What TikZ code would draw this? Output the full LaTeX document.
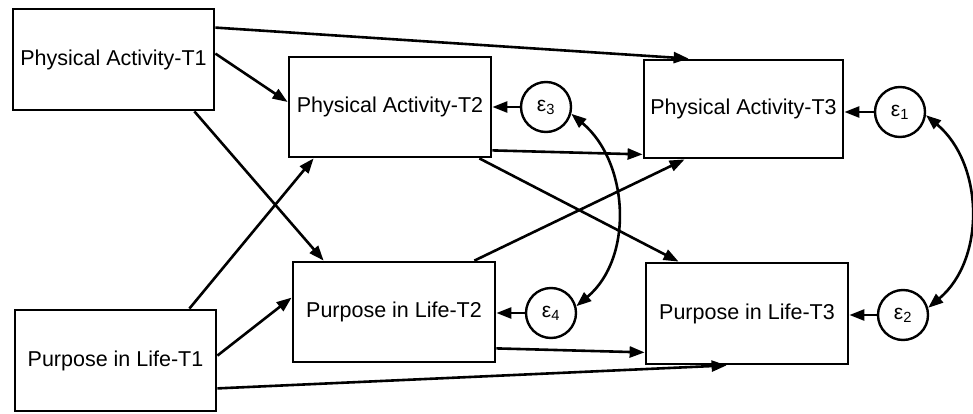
\documentclass[tikz,border=0pt]{standalone}
\usepackage{fontspec}
\setmainfont{Liberation Sans}
\usetikzlibrary{arrows.meta}
\begin{document}
\begin{tikzpicture}[x=1pt,y=-1pt,
  box/.style={draw,line width=2.8pt,inner sep=0pt,align=center,font=\fontsize{21.5}{25}\selectfont},
  err/.style={draw,circle,line width=2.4pt,minimum size=50pt,inner sep=0pt,font=\fontsize{21}{22}\selectfont},
  arr/.style={line width=2.6pt,-{Triangle[length=15pt,width=11pt]}},
  dbl/.style={line width=2.6pt,{Triangle[length=15pt,width=11pt]}-{Triangle[length=15pt,width=11pt]}}]
\useasboundingbox (0,0) rectangle (973,414);
\node[box,minimum width=201pt,minimum height=101pt] (pa1) at (113.5,59.5) {Physical Activity-T1};
\node[box,minimum width=202pt,minimum height=100pt] (pa2) at (390,107) {Physical Activity-T2};
\node[box,minimum width=199pt,minimum height=98pt] (pa3) at (743.5,109) {Physical Activity-T3};
\node[box,minimum width=201pt,minimum height=101pt] (pl1) at (115.5,360.5) {Purpose in Life-T1};
\node[box,minimum width=202pt,minimum height=100pt] (pl2) at (394,312) {Purpose in Life-T2};
\node[box,minimum width=202pt,minimum height=101pt] (pl3) at (747,313.5) {Purpose in Life-T3};
\node[err] (e3) at (546,107) {ε\textsubscript{3}};
\node[err] (e4) at (551,313) {ε\textsubscript{4}};
\node[err] (e1) at (900,112) {ε\textsubscript{1}};
\node[err] (e2) at (903,315) {ε\textsubscript{2}};
% paths
\draw[arr] ([yshift=-20pt]pa1.north east) -- ([xshift=46pt]pa3.north west);
\draw[arr] ([yshift=-46pt]pa1.north east) -- ([yshift=5pt]pa2.west);
\draw[arr] ([xshift=-21pt]pa1.south east) -- ([xshift=32pt]pl2.north west);
\draw[arr] ([xshift=-28pt]pl1.north east) -- ([xshift=26pt]pa2.south west);
\draw[arr] ([yshift=-47pt]pl1.north east) -- ([yshift=-37pt]pl2.north west);
\draw[arr] ([yshift=24pt]pl1.south east) -- ([xshift=82pt]pl3.south west);
\draw[arr] ([yshift=8pt]pa2.south east) -- ([yshift=5pt]pa3.south west);
\draw[arr] ([xshift=-13pt]pa2.south east) -- ([xshift=34pt]pl3.north west);
\draw[arr] ([xshift=-22pt]pl2.north east) -- ([xshift=42pt]pa3.south west);
\draw[arr] ([yshift=15pt]pl2.south east) -- ([yshift=13pt]pl3.south west);
% residuals
\draw[arr] (e3.west) -- (e3 -| pa2.east);
\draw[arr] (e4.west) -- (e4 -| pl2.east);
\draw[arr] (e1.west) -- (e1 -| pa3.east);
\draw[arr] (e2.west) -- (e2 -| pl3.east);
% covariances
\draw[dbl] (e3.-15) to[out=-40,in=40] (e4.15);
\draw[dbl] (e1.-7) to[out=-40,in=40] (e2.16);
\end{tikzpicture}
\end{document}
